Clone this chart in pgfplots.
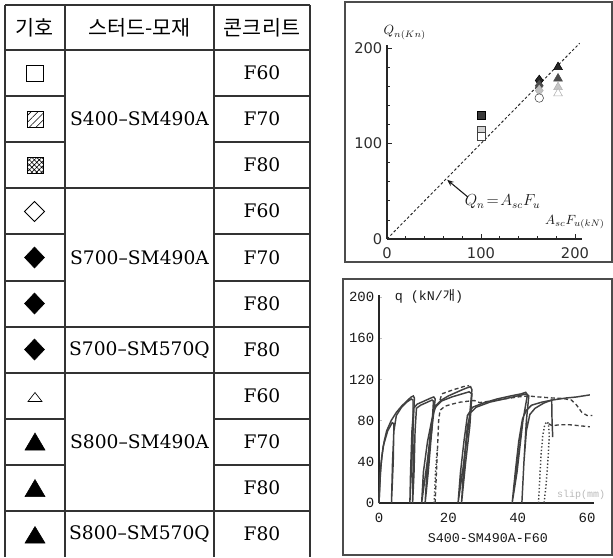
\documentclass[border=0pt]{standalone}
\usepackage{pgfplots}
\pgfplotsset{compat=1.18}
\usepackage{fontspec}
\setmainfont{DejaVu Serif}
\newfontfamily\kr{Noto Sans CJK KR}
\newfontfamily\mono{Liberation Mono}
\newfontfamily\dsans{DejaVu Sans}
\usetikzlibrary{arrows.meta,patterns.meta}
\definecolor{ln}{HTML}{333333}
\definecolor{cv}{HTML}{404040}
\begin{document}
\begin{tikzpicture}
% ---------------- table (pixel frame) ----------------
\begin{axis}[at={(0pt,0pt)}, anchor=north west, scale only axis,
  width=459.75pt, height=417.75pt, xmin=0, xmax=613, ymin=0, ymax=557,
  y dir=reverse, hide axis, clip=false]
  % frames of the two plots
  \draw[gray!60!black, line width=0.8pt] (345,2) rectangle (612,262);
  \draw[gray!60!black, line width=0.8pt] (343,279) rectangle (612,555);
  % table lines
  \draw[ln, line width=0.8pt] (5,5) -- (310,5);
  \draw[ln, line width=0.8pt] (5,50) -- (310,50);
  \draw[ln, line width=0.8pt] (5,188) -- (310,188);
  \draw[ln, line width=0.8pt] (5,327) -- (310,327);
  \draw[ln, line width=0.8pt] (5,373) -- (310,373);
  \draw[ln, line width=0.8pt] (5,511) -- (310,511);
  \draw[ln, line width=0.8pt] (5,96) -- (65,96);   \draw[ln, line width=0.8pt] (214,96) -- (310,96);
  \draw[ln, line width=0.8pt] (5,142) -- (65,142); \draw[ln, line width=0.8pt] (214,142) -- (310,142);
  \draw[ln, line width=0.8pt] (5,234) -- (65,234); \draw[ln, line width=0.8pt] (214,234) -- (310,234);
  \draw[ln, line width=0.8pt] (5,281) -- (65,281); \draw[ln, line width=0.8pt] (214,281) -- (310,281);
  \draw[ln, line width=0.8pt] (5,419) -- (65,419); \draw[ln, line width=0.8pt] (214,419) -- (310,419);
  \draw[ln, line width=0.8pt] (5,465) -- (65,465); \draw[ln, line width=0.8pt] (214,465) -- (310,465);
  \draw[ln, line width=0.8pt] (5,5) -- (5,557);
  \draw[ln, line width=0.8pt] (65,5) -- (65,557);
  \draw[ln, line width=0.8pt] (214,5) -- (214,557);
  \draw[ln, line width=0.8pt] (310,5) -- (310,557);
  % header
  \node[font=\kr\fontsize{15.5}{18}\selectfont] at (34.5,27.5) {기호};
  \node[font=\kr\fontsize{15.5}{18}\selectfont] at (139.5,27.5) {스터드-모재};
  \node[font=\kr\fontsize{15.5}{18}\selectfont] at (262,27.5) {콘크리트};
  % cells
  \node[font=\fontsize{14}{16}\selectfont] at (262,73) {F60};
  \node[font=\fontsize{14}{16}\selectfont] at (262,119) {F70};
  \node[font=\fontsize{14}{16}\selectfont] at (262,165) {F80};
  \node[font=\fontsize{14}{16}\selectfont] at (262,211) {F60};
  \node[font=\fontsize{14}{16}\selectfont] at (262,257.5) {F70};
  \node[font=\fontsize{14}{16}\selectfont] at (262,304) {F80};
  \node[font=\fontsize{14}{16}\selectfont] at (262,350) {F80};
  \node[font=\fontsize{14}{16}\selectfont] at (262,396) {F60};
  \node[font=\fontsize{14}{16}\selectfont] at (262,442) {F70};
  \node[font=\fontsize{14}{16}\selectfont] at (262,488) {F80};
  \node[font=\fontsize{14}{16}\selectfont] at (262,534) {F80};
  \node[font=\fontsize{14}{16}\selectfont] at (139.5,119) {S400–SM490A};
  \node[font=\fontsize{14}{16}\selectfont] at (139.5,257.5) {S700–SM490A};
  \node[font=\fontsize{14}{16}\selectfont] at (139.5,350) {S700–SM570Q};
  \node[font=\fontsize{14}{16}\selectfont] at (139.5,442) {S800–SM490A};
  \node[font=\fontsize{14}{16}\selectfont] at (139.5,534) {S800–SM570Q};
  % symbols
  \addplot[draw=black, fill=white, line width=0.6pt] coordinates {(26.5,65)(43,65)(43,81.5)(26.5,81.5)} -- cycle;
  \addplot[draw=black, line width=0.6pt, pattern={Lines[angle=45,distance=3.6pt,line width=0.45pt]}] coordinates {(27,111.5)(43,111.5)(43,127.5)(27,127.5)} -- cycle;
  \addplot[draw=black, line width=0.6pt, pattern={Hatch[angle=45,distance=2.6pt,line width=0.45pt]}] coordinates {(27,157)(43,157)(43,173)(27,173)} -- cycle;
  \addplot[draw=black, fill=white, line width=0.6pt] coordinates {(24.5,211.5)(34.5,201.5)(44.5,211.5)(34.5,221.5)} -- cycle;
  \addplot[draw=black, fill=black] coordinates {(24.5,257.5)(34.5,247)(44.5,257.5)(34.5,268)} -- cycle;
  \addplot[draw=black, fill=black] coordinates {(24.5,303.5)(34.5,293)(44.5,303.5)(34.5,314)} -- cycle;
  \addplot[draw=black, fill=black] coordinates {(24.5,349.5)(34.5,339)(44.5,349.5)(34.5,360)} -- cycle;
  \addplot[draw=black, fill=white, line width=0.5pt] coordinates {(28,401.5)(42,401.5)(35,392.5)} -- cycle;
  \addplot[draw=black, fill=black] coordinates {(25,450)(45,450)(35,433)} -- cycle;
  \addplot[draw=black, fill=black] coordinates {(25,496.5)(45,496.5)(35,479.5)} -- cycle;
  \addplot[draw=black, fill=black] coordinates {(25,543)(45,543)(35,526.5)} -- cycle;
\end{axis}
% ---------------- upper plot ----------------
\begin{axis}[at={(290.25pt,-179.25pt)}, anchor=south west, scale only axis,
  width=146.6pt, height=145.4pt, xmin=0, xmax=208, ymin=0, ymax=203,
  axis lines*=left, axis line style={gray!30!black, line width=0.8pt},
  xtick={0,100,200}, ytick={0,100,200},
  minor xtick={20,40,60,80,120,140,160,180}, minor ytick={20,40,60,80,120,140,160,180},
  tick align=inside, major tick length=4pt, minor tick length=2.5pt,
  tick style={gray!30!black, line width=0.6pt},
  ticklabel style={font=\dsans\fontsize{11}{12}\selectfont, text=gray!35!black},
  xticklabel style={yshift=-3pt},
  /pgf/number format/assume math mode=true, clip=false]
  \addplot[gray!30!black, line width=0.7pt, dash pattern=on 2pt off 1.6pt] coordinates {(0,0)(205,205)};
  \draw[-{Stealth[length=5pt,width=4pt]}, gray!20!black, line width=0.8pt] (86,44) -- (64,62);
  \node[gray!20!black, font=\fontsize{11.5}{13}\selectfont] at (123,39) {$Q_n\!=\!A_{sc}F_u$};
  \node[gray!20!black, font=\fontsize{10}{12}\selectfont] at (19,216) {$Q_{n(Kn)}$};
  \node[gray!20!black, font=\fontsize{10}{12}\selectfont] at (200,18) {$A_{sc}F_{u(kN)}$};
  % squares
  \addplot[only marks, mark=square*, mark size=3pt, mark options={fill=gray!45!black, draw=black}] coordinates {(100,130)};
  \addplot[only marks, mark=square*, mark size=3pt, mark options={fill=gray!35, draw=gray!50!black}] coordinates {(100,114)};
  \addplot[only marks, mark=square*, mark size=3pt, mark options={fill=white, draw=gray!50!black}] coordinates {(100,107.5)};
  % diamonds
  \addplot[only marks, mark=diamond*, mark size=4pt, mark options={fill=black!85, draw=black}] coordinates {(162,166)};
  \addplot[only marks, mark=diamond*, mark size=4pt, mark options={fill=gray!60!black, draw=gray!60!black}] coordinates {(162,160.5)};
  \addplot[only marks, mark=diamond*, mark size=4pt, mark options={fill=gray!50, draw=gray!60}] coordinates {(162,155.5)};
  \addplot[only marks, mark=*, mark size=3.2pt, mark options={fill=white, draw=gray!50!black}] coordinates {(162,147.6)};
  % triangles
  \addplot[only marks, mark=triangle*, mark size=3.8pt, mark options={fill=black!85, draw=black}] coordinates {(182,180)};
  \addplot[only marks, mark=triangle*, mark size=3.8pt, mark options={fill=gray!60!black, draw=gray!60!black}] coordinates {(182,168)};
  \addplot[only marks, mark=triangle*, mark size=3.8pt, mark options={fill=gray!45, draw=gray!60}] coordinates {(182,159)};
  \addplot[only marks, mark=triangle*, mark size=3.8pt, mark options={fill=white, draw=gray!60}] coordinates {(182,152.5)};
\end{axis}
% ---------------- lower plot ----------------
\begin{axis}[at={(284.25pt,-377.25pt)}, anchor=south west, scale only axis,
  width=161.25pt, height=156pt, xmin=0, xmax=62, ymin=0, ymax=202,
  axis lines*=left, axis line style={gray!30!black, line width=0.8pt},
  xtick={0,20,40,60}, ytick={0,40,80,120,160,200},
  tick align=inside, major tick length=2.5pt,
  xtick style={draw=none}, ytick style={gray!50, line width=0.4pt},
  ticklabel style={font=\mono\fontsize{10.5}{12}\selectfont, text=gray!20!black},
  xticklabel style={yshift=-4pt},
  /pgf/number format/assume math mode=true, clip=false]
  \node[anchor=west, gray!20!black, font=\mono\fontsize{10}{12}\selectfont] at (3.2,201) {q (kN/{\kr 개})};
  \node[gray!55, font=\mono\fontsize{7.5}{9}\selectfont] at (58.3,8) {slip(mm)};
  \node[gray!20!black, font=\mono\fontsize{10}{12}\selectfont] at (31.4,-34) {S400-SM490A-F60};
  % solid specimen A
  \addplot[cv, line width=1.1pt] coordinates {
    (0,0)(0.3,25)(0.8,45)(1.5,60)(2.2,70)(3.5,80)(5,88)(6.5,94)(8,99)(9.3,103)(9.9,104)(10.2,102)(9.8,70)(9.3,30)(8.9,0)
    (9.1,30)(9.5,70)(10,92)(11,96)(13,99)(15,102)(15.8,103)(16.2,101)(15.2,70)(13.5,30)(12.3,0)
    (12.8,30)(14,60)(15.5,85)(16.5,95)(18,100)(20,104)(22,107)(24,110)(25.5,112)(26.4,113)(26.8,110)(26,80)(24.5,40)(22.8,0)
    (23.5,30)(24.5,60)(25.5,85)(27,93)(30,97)(34,101)(38,104)(41,106)(42.3,107.5)(42.8,105)(41.5,80)(39.8,30)(38.4,0)
    (39.3,30)(40.3,60)(41.4,82)(42.5,90)(44,95)(47,98)(50,100)(54,102)(57,103)(60.8,105)};
  % solid specimen B
  \addplot[cv, line width=1.1pt] coordinates {
    (0,0)(0.5,35)(1.2,55)(2.5,70)(3.8,78)(4.3,77)(4.1,40)(3.6,0)(3.9,40)(4.3,70)(5,85)(6.5,93)(8,98)(9.3,101)(9.8,100)(9.8,70)(9.8,30)(9.7,0)
    (10.1,30)(10.4,70)(10.8,92)(12,95)(14,98)(15.3,100)(15.7,99)(15.2,70)(14.2,30)(13.3,0)
    (14,40)(15,75)(16,92)(18,99)(21,103)(24,106)(26,108)(26.8,106)(26.2,75)(25,40)(23.8,0)
    (24.5,40)(25.5,75)(26.5,88)(28,93)(32,98)(36,101)(40,104)(42.5,106)(43.2,104)(42.5,80)(41.8,40)(41.2,0)
    (41.8,40)(42.5,70)(43.5,86)(45,92)(47.5,97)(49.8,100)(49.9,80)(50.1,64)};
  % dashed
  \addplot[cv, line width=1pt, dash pattern=on 3pt off 2pt] coordinates {
    (16.2,0)(16.5,25)(16.9,55)(17.2,80)(17.6,90)(19,94)(21,96)(23.5,98)(26,99)(27.5,99.5)(29,97.5)(32,99)(36,101)(40,103)(43,104)(46,103)(50,102)(53,101.5)(55.5,100)(57,95)(58.5,88)(60,85)(61.5,85)};
  \addplot[cv, line width=1pt, dash pattern=on 3pt off 2pt] coordinates {
    (17.6,100)(18.1,106)(21,109.5)(24.3,113)(26,114)};
  \addplot[cv, line width=1pt, dash pattern=on 3pt off 2pt] coordinates {
    (48.9,77)(50,75)(52,76)(55,76)(58,75)(60.8,74)};
  % dotted
  \addplot[cv, line width=1.1pt, dash pattern=on 1pt off 1.6pt] coordinates {
    (46.0,0)(46.3,20)(46.7,45)(47.2,65)(47.8,76)(48.4,79)(48.9,77)(49.1,65)(48.7,40)(48.1,15)(47.6,0)};
  \addplot[cv, line width=1.1pt, dash pattern=on 1pt off 1.6pt] coordinates {
    (15.9,0)(16.1,15)(16.3,30)(16.6,45)(16.9,54)};
\end{axis}
\pgfresetboundingbox
\path[use as bounding box] (0pt,0pt) rectangle (459.75pt,-417.75pt);
\end{tikzpicture}
\end{document}
